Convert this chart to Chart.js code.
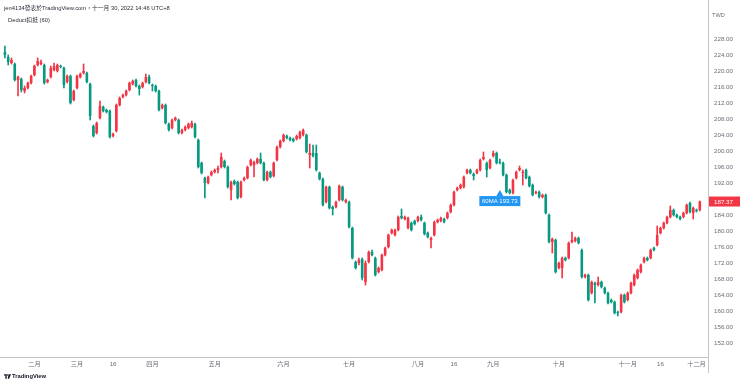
<!DOCTYPE html>
<html>
<head>
<meta charset="utf-8">
<script src="https://cdn.jsdelivr.net/npm/chart.js@4.4.0/dist/chart.umd.min.js"></script>
<style>
  html, body { margin: 0; padding: 0; background: #fff; }
  #wrap { position: relative; width: 740px; height: 385px; overflow: hidden;
          font-family: "Liberation Sans", "Noto Sans CJK TC", sans-serif; }
  #chart { position: absolute; left: 0; top: 0; }
  .txt { position: absolute; white-space: nowrap; }
  #hdr { left: 4px; top: 3px; font-size: 5.8px; color: #2a2e39; }
  #legend { left: 8px; top: 15px; font-size: 5.8px; color: #2a2e39; }
  #cur { left: 712px; top: 12px; font-size: 5.6px; color: #6a6d78; }
  #brand { left: 4px; top: 373px; font-size: 5.8px; color: #131722; font-weight: bold; display: flex; align-items: center; gap: 1px; }
</style>
</head>
<body>
<div id="wrap">
  <canvas id="chart" width="740" height="385"></canvas>
  <div class="txt" id="hdr">jen4134發表於TradingView.com，十一月 30, 2022 14:46 UTC+8</div>
  <div class="txt" id="legend">Deduct扣抵 (60)</div>
  <div class="txt" id="cur">TWD</div>
  <div class="txt" id="brand">
    <svg width="7" height="5" viewBox="0 0 18 12"><path d="M0 0h7v12H3.5V3.5H0z" fill="#131722"/><circle cx="9.5" cy="2" r="2" fill="#131722"/><path d="M12 0h6l-5 12h-3.5z" fill="#131722"/></svg>
    <span>TradingView</span>
  </div>
</div>
<script>
// daily candles, mid Jan 2022 -> 30 Nov 2022 (TWD)
const opens = [
  224.75,223.5,222.0,221.75,217.75,218.0,215.0,215.75,217.0,219.0,
  221.5,221.75,221.5,217.25,218.5,220.25,220.0,221.25,220.75,217.25,
  218.75,212.75,215.75,218.5,219.5,219.5,216.75,206.25,204.5,208.25,
  211.0,210.25,210.0,203.75,205.0,211.5,213.5,214.0,215.25,216.75,
  217.75,216.25,216.0,217.25,218.5,216.5,216.25,215.0,210.75,211.5,
  206.75,205.75,207.75,207.75,204.5,205.25,205.75,206.0,206.75,202.75,
  197.0,193.25,192.0,194.0,194.75,195.25,196.0,197.5,196.0,190.25,
  192.5,192.25,188.5,192.75,193.25,196.5,196.5,197.0,198.0,197.0,
  192.75,194.75,193.75,197.75,201.0,202.5,203.75,203.25,203.0,203.0,
  203.25,204.0,204.0,199.0,199.5,199.5,194.5,193.0,187.25,191.0,
  186.0,186.0,187.75,191.0,187.25,187.25,180.75,172.25,172.0,173.0,
  167.25,172.25,174.75,173.25,169.75,170.25,174.0,176.0,179.5,179.0,
  180.25,183.75,183.0,180.75,182.0,182.5,182.5,183.5,182.0,179.5,
  177.75,179.0,182.25,182.5,183.0,183.25,184.75,186.5,190.25,190.75,
  191.0,194.5,195.25,194.25,194.5,195.25,198.0,197.0,195.75,198.75,
  199.5,197.25,197.0,194.0,190.25,189.5,193.25,195.25,194.5,195.25,
  193.5,191.5,189.5,189.75,188.5,189.0,184.0,177.25,177.75,170.75,
  170.75,173.25,173.25,177.25,177.5,178.25,175.25,168.5,169.0,164.5,
  167.0,166.5,167.25,165.75,164.5,162.75,162.25,159.75,159.75,164.0,
  162.75,164.5,166.5,168.25,169.75,172.25,173.25,173.25,175.75,176.5,
  179.5,180.75,182.0,183.5,185.25,184.0,183.5,183.5,184.5,187.0,
  184.5,185.25,185.25
];
const highs = [
  226.25,224.0,223.25,222.0,218.75,218.25,216.25,217.25,219.0,221.5,
  223.25,222.75,221.75,218.0,221.25,222.0,221.75,221.5,221.0,219.0,
  219.0,215.25,219.0,219.5,221.75,219.75,217.0,206.5,207.25,212.5,
  211.25,210.5,210.25,204.5,211.75,213.5,214.25,215.25,217.25,217.75,
  218.0,216.5,217.25,219.25,219.0,216.75,216.5,215.25,211.75,211.75,
  207.0,208.0,208.5,208.0,205.5,206.25,207.0,207.5,207.0,203.0,
  197.25,193.5,193.75,195.0,195.5,196.25,199.5,197.75,196.25,192.5,
  192.75,192.5,192.5,193.5,196.25,198.0,197.5,198.25,199.5,197.25,
  195.0,195.0,197.25,201.25,202.75,204.25,204.0,203.5,203.25,204.0,
  205.0,205.5,204.25,201.75,201.5,201.5,194.75,193.25,191.25,191.25,
  186.25,187.5,191.5,191.25,188.0,187.5,181.0,172.5,173.25,173.25,
  172.5,175.0,175.25,173.5,171.0,174.25,176.0,179.25,180.5,180.5,
  183.75,185.5,183.75,183.5,182.25,182.75,183.75,184.0,182.25,179.75,
  178.5,182.5,183.0,183.5,183.25,184.75,186.75,190.0,191.0,191.75,
  193.75,195.5,195.5,194.5,195.5,198.0,199.75,197.25,198.0,200.0,
  199.75,198.0,197.25,194.25,190.5,193.0,195.0,196.25,195.25,195.5,
  193.75,191.75,190.0,190.0,189.25,189.25,184.25,178.25,178.0,172.25,
  173.5,173.5,177.25,179.75,178.5,178.5,175.5,169.25,169.25,167.5,
  167.25,168.5,167.5,166.0,164.75,163.0,162.5,160.0,164.25,164.25,
  164.75,167.25,169.25,170.5,171.75,173.5,173.5,175.5,176.0,181.25,
  181.0,182.25,183.75,186.25,185.5,184.25,183.75,184.75,186.75,187.25,
  186.0,185.5,187.5
];
const lows = [
  223.25,221.5,221.75,217.5,213.75,214.75,214.5,215.5,216.75,218.75,
  221.25,221.5,216.75,217.0,218.25,220.0,219.75,220.75,215.75,217.0,
  211.75,212.5,215.5,218.25,219.25,217.0,207.75,203.5,204.25,208.0,
  209.75,209.5,203.25,203.5,204.75,211.25,213.25,213.75,215.0,216.5,
  216.0,214.0,215.75,217.0,216.75,215.0,214.75,210.0,210.5,206.75,
  205.0,205.5,207.5,204.25,204.25,205.0,205.5,205.75,203.25,195.75,
  194.25,188.25,191.75,193.75,194.5,194.5,195.75,195.75,190.75,187.75,
  191.5,188.0,188.25,192.5,193.0,196.25,193.5,196.75,196.75,192.5,
  192.5,193.25,193.5,197.5,200.75,202.25,203.0,202.5,202.25,202.75,
  203.0,203.75,199.5,195.75,198.5,195.0,192.75,186.25,187.0,185.5,
  184.0,185.75,187.5,187.5,187.0,180.75,173.0,170.5,171.5,167.75,
  166.5,172.0,173.75,168.75,169.5,170.0,173.75,175.75,179.25,178.75,
  180.0,183.0,182.75,180.5,180.0,181.5,182.25,182.5,179.0,178.25,
  175.75,178.75,182.0,182.25,182.0,183.0,184.5,186.25,190.0,190.5,
  190.75,194.25,194.25,192.75,194.25,195.0,197.75,193.5,195.5,198.5,
  196.75,196.75,193.75,189.5,189.25,189.25,193.0,195.0,191.5,193.0,
  191.0,188.75,189.25,188.25,188.25,184.25,177.0,174.5,169.5,170.5,
  168.25,172.5,173.0,177.0,177.25,176.75,168.25,168.25,162.5,164.25,
  162.0,166.25,165.75,164.25,161.75,162.0,159.25,158.75,159.5,162.0,
  162.5,164.25,166.25,168.0,169.5,172.0,172.5,173.0,175.0,176.25,
  179.25,180.5,181.75,183.25,183.75,183.25,182.75,183.25,184.25,184.5,
  183.0,184.75,185.0
];
const closes = [
  224.0,222.25,222.75,217.75,218.5,215.25,215.75,217.0,218.75,221.25,
  222.5,222.25,217.0,217.75,220.75,221.25,221.5,221.0,216.5,218.75,
  212.0,215.0,218.75,219.25,220.0,217.25,208.75,203.75,207.0,211.25,
  210.0,209.75,203.5,204.25,211.5,213.25,214.0,215.0,217.0,217.5,
  216.25,215.5,217.0,218.5,217.0,216.25,215.0,210.25,211.5,207.0,
  205.25,207.75,208.25,204.5,205.25,206.0,206.75,207.0,203.5,196.0,
  194.5,192.0,193.5,194.75,195.25,195.75,198.5,196.0,191.0,192.25,
  191.75,188.25,192.25,193.25,196.0,197.75,197.25,198.0,197.0,192.75,
  194.75,193.5,197.0,201.0,202.5,204.0,203.25,202.75,202.5,203.75,
  204.75,205.25,199.75,199.5,198.75,195.25,193.0,186.5,191.0,185.75,
  185.5,187.25,191.25,187.75,187.75,181.0,173.25,170.75,172.75,168.25,
  172.0,174.75,174.0,169.0,170.75,174.0,175.75,179.0,180.25,180.25,
  183.5,183.25,183.5,183.25,180.25,181.75,183.5,182.75,179.25,178.5,
  178.25,182.25,182.75,183.25,182.25,184.5,186.5,189.75,190.75,191.5,
  193.5,195.25,194.5,193.75,195.25,197.75,198.5,195.25,197.75,199.5,
  197.0,197.0,194.0,189.75,189.5,192.75,194.75,195.75,194.75,193.25,
  191.25,189.0,189.75,188.5,189.0,184.5,177.25,178.0,169.75,172.0,
  173.25,172.75,177.0,177.75,178.25,177.0,168.5,169.0,162.75,167.25,
  166.5,167.25,166.0,164.5,162.0,162.25,159.5,159.5,164.0,162.25,
  164.5,167.0,169.0,170.25,171.5,173.25,172.75,175.25,175.25,179.0,
  180.75,182.0,183.5,185.25,184.0,183.5,183.0,184.5,186.5,184.75,
  185.75,185.0,187.37
];

// time axis: slot index of labelled bars, and their text
const tickSlots = [10, 23, 34, 46, 65, 86, 106, 127, 138, 150, 170, 191, 201, 212];
const tickTexts = ['二月', '三月', '16', '四月', '五月', '六月', '七月', '八月', '16', '九月', '十月', '十一月', '16', '十二月'];

const lastPrice = 187.37;
const maText = '60MA 193.73';
const maValue = 193.73;
const maSlot = 152;

const UP = '#f23645';
const DOWN = '#089981';
const leadSlots = 1;
const tailSlots = 2;
const nSlots = opens.length + leadSlots + tailSlots;
const slotLabels = Array.from({ length: nSlots }, (_, i) => i);

const candleAt = (i, fn) => {
  const k = i - leadSlots;
  return (k >= 0 && k < opens.length) ? fn(k) : null;
};
const bodies = slotLabels.map(i => candleAt(i, k => [opens[k], closes[k]]));
const wicks = slotLabels.map(i => candleAt(i, k => [lows[k], highs[k]]));
const colors = slotLabels.map(i => candleAt(i, k => closes[k] >= opens[k] ? UP : DOWN) || 'rgba(0,0,0,0)');

const tickFont = { family: '"Liberation Sans", "Noto Sans CJK TC", sans-serif', size: 6.2 };

const noPad = s => { s.paddingTop = 0; s.paddingBottom = 0; s.paddingLeft = 0; s.paddingRight = 0; };

const overlay = {
  id: 'overlay',
  afterDraw(chart) {
    const { ctx, chartArea, scales: { x, y } } = chart;
    ctx.save();
    ctx.strokeStyle = '#c3c5cc';
    ctx.lineWidth = 1;
    ctx.beginPath();
    ctx.moveTo(chartArea.right + 0.5, 0);
    ctx.lineTo(chartArea.right + 0.5, 373);
    ctx.stroke();

    // last price tag
    const py = y.getPixelForValue(lastPrice);
    ctx.fillStyle = UP;
    ctx.fillRect(chartArea.right + 1, py - 5, 31, 10);
    ctx.fillStyle = '#ffffff';
    ctx.font = '6.2px "Liberation Sans", sans-serif';
    ctx.textBaseline = 'middle';
    ctx.textAlign = 'left';
    ctx.fillText(lastPrice.toFixed(2), chartArea.right + 6, py + 0.5);

    // moving average tag
    const mx = x.getPixelForValue(maSlot);
    const tipY = y.getPixelForValue(maValue) + 14;
    const bw = 41, bh = 10;
    ctx.fillStyle = '#2196f3';
    ctx.beginPath();
    ctx.moveTo(mx, tipY);
    ctx.lineTo(mx + 3.5, tipY + 6);
    ctx.lineTo(mx - 3.5, tipY + 6);
    ctx.closePath();
    ctx.fill();
    ctx.fillRect(mx - 20.5, tipY + 6, bw, bh);
    ctx.fillStyle = '#ffffff';
    ctx.font = '6px "Liberation Sans", sans-serif';
    ctx.textAlign = 'center';
    ctx.fillText(maText, mx, tipY + 6 + bh / 2 + 0.5);
    ctx.restore();
  }
};

new Chart(document.getElementById('chart'), {
  type: 'bar',
  data: {
    labels: slotLabels,
    datasets: [
      {
        label: 'body',
        data: bodies,
        backgroundColor: colors,
        borderWidth: 0,
        grouped: false,
        barPercentage: 0.8,
        categoryPercentage: 1,
        minBarLength: 1
      },
      {
        label: 'wick',
        data: wicks,
        backgroundColor: colors,
        borderWidth: 0,
        grouped: false,
        barThickness: 1
      }
    ]
  },
  options: {
    responsive: false,
    animation: false,
    devicePixelRatio: 1,
    layout: { padding: 0 },
    plugins: { legend: { display: false }, tooltip: { enabled: false } },
    scales: {
      x: {
        type: 'category',
        offset: true,
        grid: { display: false, drawTicks: false },
        border: { display: true, color: '#c3c5cc' },
        afterFit: s => { s.height = 28; noPad(s); },
        ticks: {
          autoSkip: false,
          maxRotation: 0,
          padding: 4,
          color: '#6a6d78',
          font: tickFont,
          callback: (v, i) => {
            const t = tickSlots.indexOf(i);
            return t >= 0 ? tickTexts[t] : '';
          }
        }
      },
      y: {
        position: 'right',
        min: 148.5,
        max: 237.75,
        grid: { display: false, drawTicks: false },
        border: { display: false },
        afterFit: s => { s.width = 32; noPad(s); },
        ticks: {
          stepSize: 4,
          includeBounds: false,
          padding: 6,
          color: '#6a6d78',
          font: tickFont,
          callback: v => (v > 230 ? '' : v.toFixed(2))
        }
      }
    }
  },
  plugins: [overlay]
});
</script>
</body>
</html>
